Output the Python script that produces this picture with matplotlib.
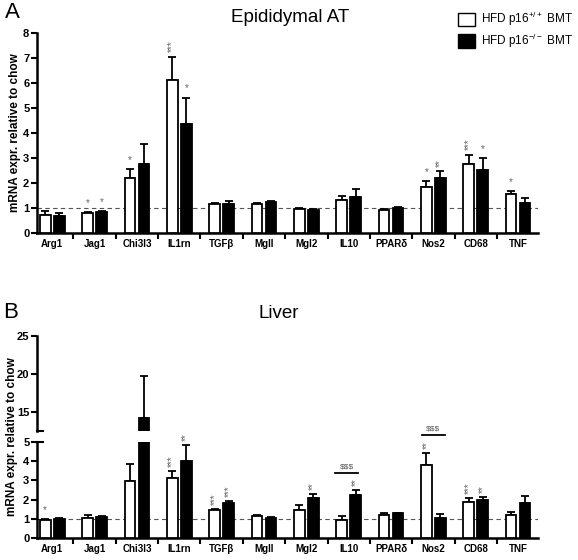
import numpy as np
import matplotlib.pyplot as plt

plt.rcParams['font.family'] = ['Liberation Sans', 'DejaVu Sans']
plt.rcParams['mathtext.fontset'] = 'custom'
plt.rcParams['mathtext.rm'] = 'Liberation Sans'

genes = ['Arg1', 'Jag1', 'Chi3l3', 'IL1rn', 'TGF\u03b2', 'MgII', 'Mgl2',
         'IL10', 'PPAR\u03b4', 'Nos2', 'CD68', 'TNF']

# Epididymal AT
a_wt = [0.72, 0.80, 2.20, 6.12, 1.16, 1.15, 0.96, 1.32, 0.92, 1.83, 2.76, 1.55]
a_wt_err = [0.89, 0.85, 2.55, 7.06, 1.20, 1.20, 0.99, 1.48, 0.95, 2.08, 3.14, 1.68]
a_ko = [0.67, 0.84, 2.76, 4.35, 1.16, 1.25, 0.93, 1.44, 1.02, 2.20, 2.52, 1.21]
a_ko_err = [0.80, 0.88, 3.58, 5.42, 1.28, 1.29, 0.97, 1.77, 1.04, 2.47, 3.00, 1.40]
a_wt_sig = ['', '*', '*', '***', '', '', '', '', '', '*', '***', '*']
a_ko_sig = ['', '*', '', '*', '', '', '', '', '', '**', '*', '']

# Liver
b_wt = [0.95, 1.05, 2.98, 3.12, 1.47, 1.15, 1.48, 0.95, 1.20, 3.80, 1.89, 1.22]
b_wt_err = [0.98, 1.20, 3.88, 3.47, 1.52, 1.22, 1.74, 1.13, 1.30, 4.44, 2.07, 1.37]
b_ko = [1.00, 1.10, 14.2, 4.03, 1.82, 1.05, 2.07, 2.26, 1.28, 1.06, 1.96, 1.80]
b_ko_err = [1.03, 1.16, 19.7, 4.86, 1.94, 1.10, 2.27, 2.48, 1.31, 1.27, 2.15, 2.17]
b_wt_sig = ['*', '', '', '***', '***', '', '', '', '', '**', '***', '']
b_ko_sig = ['', '', '', '**', '***', '', '**', '**', '', '', '**', '']
b_brackets = [(6.95, 3.4), (9.0, 5.38)]  # centre of $$$ bar, height

x = np.arange(len(genes))
w = 0.25
off = 0.165
lw = 1.3


def draw_bars(ax, wt, wt_err, ko, ko_err, wt_sig=None, ko_sig=None):
    for xs, vals, errs, col, sig in [(x - off, wt, wt_err, 'white', wt_sig),
                                     (x + off, ko, ko_err, 'black', ko_sig)]:
        vals = np.array(vals)
        errs = np.array(errs)
        ax.bar(xs, vals, width=w, color=col, edgecolor='black', linewidth=lw, zorder=3)
        ax.errorbar(xs, vals, yerr=[np.zeros_like(vals), errs - vals], fmt='none',
                    ecolor='black', elinewidth=lw, capsize=3, capthick=lw, zorder=2)
        if sig is not None:
            for xi, e, s in zip(xs, errs, sig):
                if not s:
                    continue
                rot = 90 if len(s) > 1 else 0
                ax.annotate(s, (xi, e), xytext=(0, 3), textcoords='offset points',
                            ha='center', va='bottom', fontsize=7, color='#666666',
                            rotation=rot)


def style_axes(ax, show_x=True):
    for side in ['top', 'right']:
        ax.spines[side].set_visible(False)
    ax.spines['left'].set_linewidth(1.8)
    ax.spines['bottom'].set_linewidth(1.8)
    ax.set_xlim(-0.36, 11.47)
    ax.tick_params(axis='y', length=4, width=1.5, labelsize=8, pad=1.5)
    for lab in ax.get_yticklabels():
        lab.set_fontweight('bold')
    if show_x:
        ax.set_xticks(x)
        ax.set_xticklabels(genes, fontsize=7, fontweight='bold')
        ax.tick_params(axis='x', which='major', length=0, pad=4)
        ax.set_xticks(np.arange(0.5, 11.5, 1), minor=True)
        ax.tick_params(axis='x', which='minor', length=4, width=1.5)
    else:
        ax.spines['bottom'].set_visible(False)
        ax.set_xticks([])


fig = plt.figure(figsize=(5.78, 5.6), dpi=100)
W, H = 578.0, 560.0
L = 37 / W
R = (538 - 37) / W

# Panel A
axA = fig.add_axes([L, 1 - 233 / H, R, 200 / H])
draw_bars(axA, a_wt, a_wt_err, a_ko, a_ko_err, a_wt_sig, a_ko_sig)
axA.axhline(1, color='#555555', linestyle=(0, (4, 3)), linewidth=0.8, zorder=1)
axA.set_ylim(0, 8)
axA.set_yticks(range(0, 9))
style_axes(axA)
fig.text(15 / W, 1 - 133 / H, 'mRNA expr. relative to chow', rotation=90,
         ha='center', va='center', fontsize=8.5, fontweight='bold')

# Panel B: broken axis
axB = fig.add_axes([L, 1 - 538 / H, R, 96 / H])
axB2 = fig.add_axes([L, 1 - 431 / H, R, 95 / H])
draw_bars(axB, b_wt, b_wt_err, b_ko, b_ko_err, b_wt_sig, b_ko_sig)
draw_bars(axB2, b_wt, b_wt_err, b_ko, b_ko_err)
axB.axhline(1, color='#555555', linestyle=(0, (4, 3)), linewidth=0.8, zorder=1)
axB.set_ylim(0, 5)
axB.set_yticks(range(0, 6))
axB2.set_ylim(12.5, 25)
axB2.set_yticks([15, 20, 25])
style_axes(axB)
style_axes(axB2, show_x=False)
axB2.patch.set_alpha(0)

# caps at the axis break
axB2.plot([0, 0.012], [0, 0], transform=axB2.transAxes, color='black',
          linewidth=1.5, clip_on=False)
axB.plot([0, 0.012], [1, 1], transform=axB.transAxes, color='black',
         linewidth=1.5, clip_on=False)

for gx, h in b_brackets:
    axB.plot([gx - 0.27, gx + 0.27], [h, h], color='black', linewidth=1.3, clip_on=False)
    axB.text(gx, h + 0.12, '$$$', ha='center', va='bottom', fontsize=6,
             color='#555555', parse_math=False, clip_on=False)

fig.text(12 / W, 1 - 437 / H, 'mRNA expr. relative to chow', rotation=90,
         ha='center', va='center', fontsize=8.5, fontweight='bold')

# titles and panel letters
fig.text(290 / W, 1 - 17 / H, 'Epididymal AT', ha='center', va='center', fontsize=13.5)
fig.text(12 / W, 1 - 13 / H, 'A', ha='center', va='center', fontsize=16)
fig.text(279 / W, 1 - 313 / H, 'Liver', ha='center', va='center', fontsize=13.5)
fig.text(11 / W, 1 - 313 / H, 'B', ha='center', va='center', fontsize=16)

# legend
h1 = plt.Rectangle((0, 0), 1, 1, facecolor='white', edgecolor='black', linewidth=1)
h2 = plt.Rectangle((0, 0), 1, 1, facecolor='black', edgecolor='black', linewidth=1)
fig.legend([h1, h2], [r'HFD p16$^{+/+}$ BMT', r'HFD p16$^{-/-}$ BMT'],
           loc='upper left', bbox_to_anchor=(450 / W, 1 - 2 / H), frameon=False,
           fontsize=8.5, handlelength=1.4, handleheight=1.4, handletextpad=0.5,
           labelspacing=0.3, borderpad=0.2)

fig.savefig('out.png', dpi=100)
